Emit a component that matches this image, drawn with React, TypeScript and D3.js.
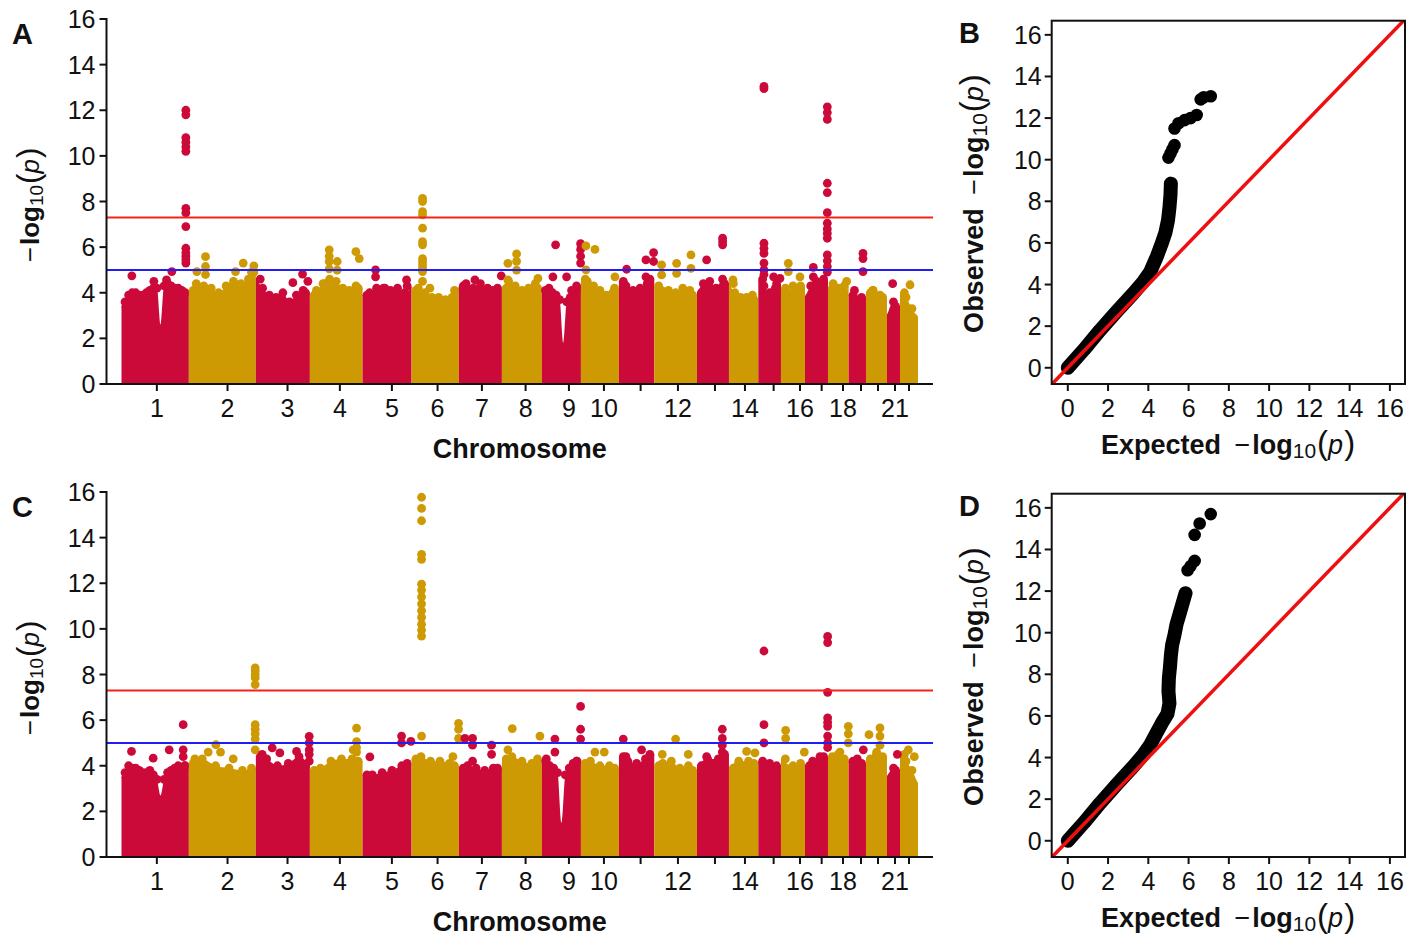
import React from "react";
import * as d3 from "d3";

// Chromosome layout (Mb) and axis ticks
const chromosomes = ["1","2","3","4","5","6","7","8","9","10","11","12","13","14","15","16","17","18","19","20","21","22"];
const chrLengthMb = [202, 201, 162, 158, 147, 142, 129, 120, 117, 114, 106, 128, 96, 88, 68, 72, 69, 62, 52, 63, 39, 54];
const chrTickMb = [106, 116, 95, 90, 88, 78, 69, 71, 81, 69, 65, 71, 54, 48, 46, 57, 50, 45, 37, 36, 24, 27];
const chrTickLabels = ["1","2","3","4","5","6","7","8","9","10","","12","","14","","16","","18","","","21",""];
const yTicks = [0, 2, 4, 6, 8, 10, 12, 14, 16];
const qqTicks = [0, 2, 4, 6, 8, 10, 12, 14, 16];

// Upper envelope of the dense SNP cloud, per chromosome (-log10 p, evenly along each chromosome)
const envelopeA: number[][] = [
  [3.4, 3.6, 3.9, 4.0, 4.0, 3.9, 3.9, 4.0, 4.1, 4.2, 4.2, 2.6, 4.3, 4.4, 4.3, 4.2, 4.2, 4.1, 4.0, 3.9],
  [4.1, 4.4, 4.3, 4.2, 4.0, 4.3, 4.5, 4.4, 4.6, 4.9],
  [4.6, 4.2, 3.9, 3.8, 4.0, 3.6, 3.9, 4.1, 4.0],
  [3.9, 4.1, 4.4, 4.6, 4.5, 4.2, 4.1, 4.3, 4.2],
  [3.9, 4.0, 4.2, 4.2, 4.1, 4.2, 4.0, 4.3],
  [4.1, 4.2, 4.0, 3.8, 3.8, 3.7, 3.8, 4.1],
  [4.3, 4.4, 4.2, 4.4, 4.2, 4.1, 4.2],
  [4.2, 4.5, 4.3, 4.1, 4.2, 4.4, 4.2],
  [4.0, 4.1, 4.2, 4.0, 3.9, 3.7, 1.8, 3.6, 3.8, 4.0, 4.2, 4.3],
  [4.6, 4.5, 4.3, 4.1, 3.9, 4.0, 4.2],
  [4.5, 4.3, 4.1, 4.2, 4.4, 4.6],
  [4.3, 4.1, 4.1, 4.0, 4.2, 4.1, 3.9],
  [4.0, 4.4, 4.5, 4.2, 4.6, 4.4],
  [4.4, 4.0, 3.8, 3.8, 3.9, 3.7],
  [4.6, 4.3, 4.0, 4.2, 4.4],
  [4.2, 4.0, 4.3, 4.1, 4.3],
  [3.8, 4.3, 4.5, 4.4, 4.6],
  [4.2, 4.4, 4.2, 4.0, 4.3],
  [3.9, 4.1, 3.7, 3.8],
  [4.0, 4.1, 3.9, 3.8],
  [3.0, 3.6, 3.4],
  [4.0, 3.8, 3.3, 2.9],
];

const envelopeC: number[][] = [
  [3.5, 3.7, 4.0, 3.9, 3.9, 3.8, 3.7, 3.7, 3.8, 3.6, 3.4, 2.7, 3.4, 3.7, 3.8, 3.9, 4.0, 3.9, 4.0, 4.0],
  [4.1, 4.3, 4.0, 3.9, 3.8, 3.9],
  [4.4, 4.3, 4.0, 4.1, 4.4, 4.0],
  [3.8, 3.9, 4.2, 4.3, 4.3, 4.2],
  [3.6, 3.6, 3.7, 3.8, 4.0, 4.1],
  [4.3, 4.4, 4.2, 4.2, 4.1, 4.0],
  [3.9, 4.0, 3.9, 3.8, 3.9, 3.9],
  [4.3, 4.4, 4.2, 4.1, 4.3],
  [4.3, 4.2, 4.0, 3.9, 3.7, 1.5, 3.6, 3.9, 4.1, 4.2, 4.2],
  [4.1, 4.2, 4.0, 4.0, 3.9],
  [4.4, 4.2, 4.1, 4.3, 4.5],
  [4.0, 4.1, 4.2, 3.9, 4.0, 3.8],
  [4.0, 4.3, 4.3, 4.5],
  [3.9, 4.2, 4.2, 4.1],
  [4.2, 4.1, 4.0],
  [4.3, 4.0, 4.1],
  [4.0, 4.2, 4.3, 4.4],
  [4.4, 4.5, 4.3],
  [4.2, 4.3, 4.1],
  [4.3, 4.5, 4.4],
  [3.5, 3.9, 3.8],
  [4.5, 4.2, 3.8, 3.2],
];

// SNPs standing out of the cloud: [chromosome, position (Mb), -log10 p values]
type Hit = [number, number, number[]];
const hitsA: Hit[] = [
  [1, 31, [4.74]], [1, 97, [4.5]], [1, 135, [4.56]], [1, 151, [4.93]],
  [1, 193, [5.3, 5.45, 5.6, 5.75, 5.95, 6.9, 7.5, 7.7, 10.2, 10.4, 10.6, 10.8, 11.8, 12.0]],
  [2, 24, [4.93]], [2, 50, [5.58, 5.15, 4.8]], [2, 140, [4.93]], [2, 163, [5.3]], [2, 195, [5.18, 4.9]],
  [3, 111, [4.44]], [3, 140, [4.82]], [3, 156, [4.5]],
  [4, 45, [4.4]], [4, 58, [5.88, 5.6, 5.37, 5.05]], [4, 82, [5.37, 4.99]], [4, 138, [5.8]], [4, 148, [5.5]],
  [5, 39, [5.0, 4.7]], [5, 67, [4.2]], [5, 132, [4.56]],
  [6, 33, [4.5, 4.93, 5.07, 5.22, 5.37, 5.5, 6.1, 6.24, 6.83, 7.41, 7.56, 8.0, 8.14]], [6, 55, [4.2]],
  [7, 12, [4.2]], [7, 48, [4.56]], [7, 102, [4.1]], [7, 127, [4.74]],
  [8, 18, [5.29, 4.56]], [8, 44, [5.7, 5.38, 4.99]], [8, 108, [4.63]],
  [9, 33, [4.7]], [9, 41, [6.1]], [9, 74, [4.7]], [9, 89, [4.1]], [9, 116, [6.15, 5.9, 5.6, 5.3]],
  [10, 15, [6.05, 5.0]], [10, 42, [5.9]], [10, 102, [4.7]],
  [11, 23, [5.03]], [11, 81, [5.44, 4.7]], [11, 104, [5.76, 5.37]],
  [12, 22, [5.22, 4.78]], [12, 67, [5.29, 4.85]], [12, 110, [5.66, 5.07]],
  [13, 29, [5.44]], [13, 77, [6.39, 6.25, 6.1]],
  [14, 12, [4.56]],
  [15, 17, [13.05, 12.95, 6.17, 5.95, 5.73, 5.3, 5.0, 4.8]], [15, 46, [4.7]], [15, 65, [4.63]],
  [16, 22, [5.29, 4.93]], [16, 57, [4.7]],
  [17, 25, [5.11, 4.7]],
  [17, 67, [12.15, 11.9, 11.6, 8.8, 8.39, 7.51, 7.05, 6.8, 6.6, 6.39, 5.66, 5.4, 5.15, 4.9]],
  [18, 21, [4.2]], [18, 56, [4.5]],
  [19, 43, [5.73, 5.5, 4.93]],
  [20, 21, [4.1]],
  [21, 17, [4.4]],
  [22, 30, [4.35]],
];

const hitsC: Hit[] = [
  [1, 30, [4.63]], [1, 95, [4.33]], [1, 143, [4.7]], [1, 185, [5.8, 4.7, 4.4]],
  [2, 18, [4.3]], [2, 58, [4.6]], [2, 81, [4.92]], [2, 95, [4.6]], [2, 133, [4.3]],
  [2, 199, [8.29, 8.15, 8.0, 7.86, 7.56, 5.8, 5.6, 5.4, 5.17, 4.7]],
  [3, 19, [4.5]], [3, 49, [4.78]], [3, 72, [4.56]], [3, 122, [4.63]], [3, 160, [5.29, 5.0, 4.7, 4.5, 4.2]],
  [4, 130, [4.7]], [4, 140, [5.65, 5.06, 4.8, 4.6]],
  [5, 22, [4.39]], [5, 117, [5.3, 5.0]], [5, 145, [5.07]],
  [6, 30, [15.77, 15.28, 14.74, 13.27, 13.05, 11.96, 11.7, 11.4, 11.1, 10.8, 10.5, 10.2, 9.95, 9.68, 5.3]],
  [6, 124, [4.4]], [6, 141, [5.86, 5.6, 5.2]],
  [7, 18, [5.2]], [7, 41, [5.2, 4.9, 4.2]], [7, 98, [4.9, 4.5]],
  [8, 18, [4.7]], [8, 31, [5.63]], [8, 114, [5.3]],
  [9, 39, [5.17, 4.6]], [9, 116, [6.6, 5.6, 5.17]],
  [10, 42, [4.6]], [10, 70, [4.6]],
  [11, 13, [5.17]], [11, 21, [4.4]], [11, 68, [4.7]],
  [12, 24, [4.5]], [12, 64, [5.17]], [12, 102, [4.5]],
  [13, 29, [4.4]], [13, 76, [5.6, 5.2, 4.9, 4.6]],
  [14, 53, [4.63]], [14, 78, [4.56]],
  [15, 17, [9.03, 5.8, 5.0]],
  [16, 14, [5.55, 5.2]], [16, 70, [4.6]],
  [17, 45, [4.4]], [17, 68, [9.67, 9.4, 7.22, 6.1, 5.9, 5.73, 5.3, 5.0, 4.8]],
  [18, 36, [4.6]], [18, 61, [5.73, 5.4, 5.0]],
  [19, 44, [4.7]],
  [20, 9, [5.36]], [20, 32, [4.6]], [20, 42, [5.66, 5.3, 4.9]],
  [21, 31, [4.5]],
  [22, 25, [4.7]], [22, 43, [4.4]],
];

// Q-Q plots: [expected, observed] -log10 p
const qqBandB: [number, number][] = [
  [0, 0], [0.8, 0.87], [1.6, 1.8], [2.4, 2.67], [3.25, 3.57], [3.75, 4.13], [4.1, 4.62],
  [4.42, 5.34], [4.67, 5.98], [4.85, 6.5], [4.98, 7.1], [5.05, 7.7], [5.1, 8.3], [5.12, 8.85],
];
const qqTailB: [number, number][] = [
  [5.0, 10.1], [5.1, 10.3], [5.2, 10.5], [5.3, 10.7], [5.3, 11.5], [5.5, 11.75], [5.8, 11.9],
  [6.1, 12.0], [6.4, 12.15], [6.6, 12.9], [6.75, 13.0], [7.1, 13.05],
];
const qqBandD: [number, number][] = [
  [0, 0], [0.8, 0.87], [1.6, 1.8], [2.4, 2.67], [3.25, 3.57], [3.75, 4.13], [4.1, 4.62],
  [4.42, 5.2], [4.7, 5.7], [4.95, 6.1], [5.05, 6.6], [5.0, 7.2], [5.02, 7.8], [5.08, 8.4],
  [5.12, 8.9], [5.18, 9.4], [5.3, 9.9], [5.4, 10.4], [5.55, 10.9], [5.7, 11.4], [5.85, 11.9],
];
const qqTailD: [number, number][] = [
  [5.95, 13.0], [6.1, 13.2], [6.3, 13.45], [6.3, 14.7], [6.55, 15.25], [7.1, 15.7],
];

const GENOME_WIDE = 7.3;
const SUGGESTIVE = 5;

const RED = "#CC0A3A";
const GOLD = "#CE9A04";
const FONT = "'Liberation Sans', Arial, Helvetica, sans-serif";
const INK = "#111";

const chrStart = Array.from(d3.cumsum([0, ...chrLengthMb]));
const genomeLength = chrStart[chrStart.length - 1];

// "−log10(p)" with bold log, subscript base and italic p in tall parentheses
function LogP({ size, sub, shift, paren }: { size: number; sub: number; shift: number; paren: number }) {
  return (
    <>
      <tspan>−</tspan>
      <tspan fontWeight="bold" dx={2}>log</tspan>
      <tspan fontSize={sub} dy={shift}>10</tspan>
      <tspan dy={-shift} fontSize={paren} dx={1}>(</tspan>
      <tspan fontStyle="italic" fontSize={size}>p</tspan>
      <tspan fontSize={paren} dx={1}>)</tspan>
    </>
  );
}

function Manhattan({ dy, envelope, hits, letter }: { dy: number; envelope: number[][]; hits: Hit[]; letter: string }) {
  const x = d3.scaleLinear().domain([-45, genomeLength + 45]).range([106.5, 933]);
  const y = d3.scaleLinear().domain([0, 16]).range([384 + dy, 19 + dy]);
  const colour = (i: number) => (i % 2 === 0 ? RED : GOLD);
  const r = 4.4;

  const area = d3
    .area<[number, number]>()
    .x((d) => x(d[0]))
    .y0(y(0))
    .y1((d) => y(d[1]))
    .curve(d3.curveMonotoneX);

  return (
    <g>
      {envelope.map((env, i) => {
        const pts: [number, number][] = env.map((v, j) => [chrStart[i] + (chrLengthMb[i] * j) / (env.length - 1), v]);
        return (
          <g key={i} fill={colour(i)}>
            <path d={area(pts) || ""} />
            {pts.map((p, j) => {
              const prev = j > 0 ? pts[j - 1][1] : p[1];
              const next = j < pts.length - 1 ? pts[j + 1][1] : p[1];
              // leave deep, narrow troughs open
              if (p[1] < prev - 0.5 && p[1] < next - 0.5) return null;
              let cx = x(p[0]);
              if (j === 0) cx += r;
              if (j === pts.length - 1) cx -= r;
              return <circle key={j} cx={cx} cy={y(p[1])} r={r} />;
            })}
          </g>
        );
      })}
      {hits.map(([chr, pos, vals], k) => (
        <g key={k} fill={colour(chr - 1)}>
          {vals.map((v, j) => (
            <circle key={j} cx={x(chrStart[chr - 1] + pos)} cy={y(v)} r={r} />
          ))}
        </g>
      ))}
      <line x1={x.range()[0]} x2={x.range()[1]} y1={y(GENOME_WIDE)} y2={y(GENOME_WIDE)} stroke="#F5221B" strokeWidth={2} />
      <line x1={x.range()[0]} x2={x.range()[1]} y1={y(SUGGESTIVE)} y2={y(SUGGESTIVE)} stroke="#1F1FF5" strokeWidth={2} />

      {/* axes */}
      <line x1={x.range()[0]} x2={x.range()[0]} y1={y(16) - 1} y2={y(0) + 1} stroke={INK} strokeWidth={2} />
      <line x1={x.range()[0] - 1} x2={x.range()[1]} y1={y(0)} y2={y(0)} stroke={INK} strokeWidth={2} />
      {yTicks.map((t) => (
        <g key={t}>
          <line x1={x.range()[0] - 7} x2={x.range()[0]} y1={y(t)} y2={y(t)} stroke={INK} strokeWidth={2} />
          <text x={x.range()[0] - 11} y={y(t)} dy="0.36em" textAnchor="end" fontSize={25} fontFamily={FONT} fill={INK}>
            {t}
          </text>
        </g>
      ))}
      {chromosomes.map((c, i) => {
        const tx = x(chrStart[i] + chrTickMb[i]);
        return (
          <g key={c}>
            <line x1={tx} x2={tx} y1={y(0)} y2={y(0) + 7} stroke={INK} strokeWidth={2} />
            {chrTickLabels[i] && (
              <text x={tx} y={y(0) + 33} textAnchor="middle" fontSize={25} fontFamily={FONT} fill={INK}>
                {chrTickLabels[i]}
              </text>
            )}
          </g>
        );
      })}
      <text x={(x.range()[0] + x.range()[1]) / 2} y={y(0) + 74} textAnchor="middle" fontSize={27} fontWeight="bold" fontFamily={FONT} fill={INK}>
        Chromosome
      </text>
      <text transform={`translate(39,${205 + dy}) rotate(-90)`} textAnchor="middle" fontSize={26} fontFamily={FONT} fill={INK}>
        <LogP size={26} sub={19} shift={4} paren={31} />
      </text>
      <text x={12} y={44 + dy} fontSize={29} fontWeight="bold" fontFamily={FONT} fill={INK}>
        {letter}
      </text>
    </g>
  );
}

function QQ({ dy, band, tail, letter }: { dy: number; band: [number, number][]; tail: [number, number][]; letter: string }) {
  const left = 1051.7, right = 1405, top = 20.7 + dy, bottom = 384 + dy;
  const x = d3.scaleLinear().domain([-0.8, 16.75]).range([left, right]);
  const y = d3.scaleLinear().domain([-0.78, 16.68]).range([bottom, top]);
  const line = d3.line<[number, number]>().x((d) => x(d[0])).y((d) => y(d[1]));
  const clipId = `qq-clip-${letter}`;
  const diag: [number, number][] = [[-1, -1], [17, 17]];
  return (
    <g>
      <defs>
        <clipPath id={clipId}>
          <rect x={left} y={top} width={right - left} height={bottom - top} />
        </clipPath>
      </defs>
      <g clipPath={`url(#${clipId})`}>
        <path d={line(band) || ""} fill="none" stroke="#000" strokeWidth={14} strokeLinecap="round" strokeLinejoin="round" />
        {tail.map((d, i) => (
          <circle key={`t${i}`} cx={x(d[0])} cy={y(d[1])} r={6.3} fill="#000" />
        ))}
        <path d={line(diag) || ""} stroke="#EE1010" strokeWidth={3.5} fill="none" />
      </g>
      <rect x={left} y={top} width={right - left} height={bottom - top} fill="none" stroke={INK} strokeWidth={2} />
      {qqTicks.map((t) => (
        <g key={t}>
          <line x1={left - 7} x2={left} y1={y(t)} y2={y(t)} stroke={INK} strokeWidth={2} />
          <text x={left - 10} y={y(t)} dy="0.36em" textAnchor="end" fontSize={25} fontFamily={FONT} fill={INK}>
            {t}
          </text>
          <line x1={x(t)} x2={x(t)} y1={bottom} y2={bottom + 7} stroke={INK} strokeWidth={2} />
          <text x={x(t)} y={bottom + 33} textAnchor="middle" fontSize={25} fontFamily={FONT} fill={INK}>
            {t}
          </text>
        </g>
      ))}
      <text x={1228} y={454 + dy} textAnchor="middle" fontSize={27} fontFamily={FONT} fill={INK}>
        <tspan fontWeight="bold">Expected</tspan>
        <tspan dx={6}> </tspan>
        <LogP size={27} sub={21} shift={4} paren={33} />
      </text>
      <text transform={`translate(983,${203.5 + dy}) rotate(-90)`} textAnchor="middle" fontSize={27} fontFamily={FONT} fill={INK}>
        <tspan fontWeight="bold">Observed</tspan>
        <tspan dx={6}> </tspan>
        <LogP size={27} sub={21} shift={4} paren={33} />
      </text>
      <text x={959} y={43 + dy} fontSize={29} fontWeight="bold" fontFamily={FONT} fill={INK}>
        {letter}
      </text>
    </g>
  );
}

export default function App() {
  return (
    <svg
      width={1406}
      height={936}
      viewBox="0 0 1406 936"
      style={{ position: "absolute", left: 0, top: 0, display: "block", background: "#fff" }}
    >
      <rect width={1406} height={936} fill="#fff" />
      <Manhattan dy={0} envelope={envelopeA} hits={hitsA} letter="A" />
      <QQ dy={0} band={qqBandB} tail={qqTailB} letter="B" />
      <Manhattan dy={473} envelope={envelopeC} hits={hitsC} letter="C" />
      <QQ dy={473} band={qqBandD} tail={qqTailD} letter="D" />
    </svg>
  );
}
